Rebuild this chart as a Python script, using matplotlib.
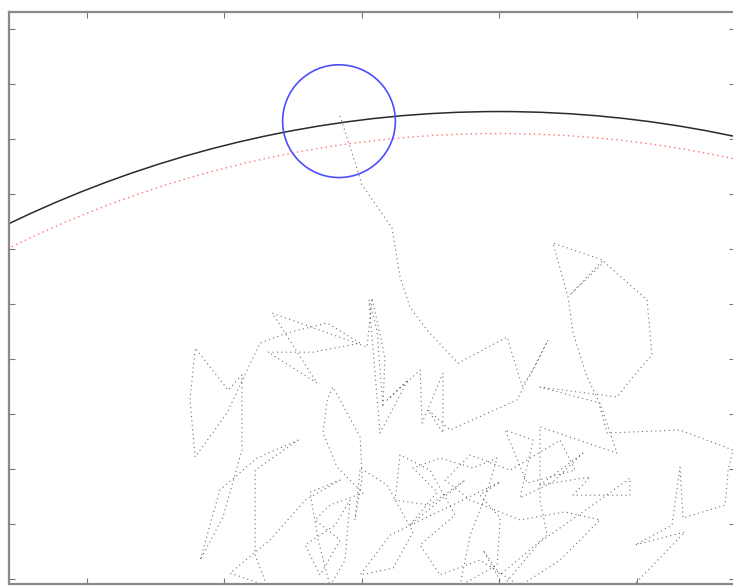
import numpy as np
import matplotlib
matplotlib.use('Agg')
import matplotlib.pyplot as plt
from matplotlib.patches import Circle

# boundary circles (centre at origin)
r_boundary = 41.0
r_inner = 40.2
# target circle at the hitting point
hit_x, hit_y, hit_r = -5.82, 40.65, 2.05

# random walk vertices
walk_x = [4.87, 6.76, 4.95, 6.29, 6.58, 6.69, 8.22, 8.33, 8.51, 6.58,
          3.93, 3.60, 3.20, 2.69, 2.51, 1.96, 3.78, 2.58, 3.82, 5.38,
          5.56, 4.87, 4.29, 1.49, 3.67, 4.29, 1.49, 1.49, 1.75, 0.04,
          -0.58, 0.15, 1.49, 3.56, 4.76, 4.76, 2.69, 3.31, 1.49, 3.05,
          1.96,
          0.76, 1.24, 0.22, 1.02, 2.76, 2.22, 0.40, -1.05, -1.96, -1.05,
          0.76, 2.40, 3.67, 2.22, 0.76, -0.69, -2.15, -2.87, -1.60, -2.51,
          -3.60, -3.78, -2.51, -1.24,
          -3.24, -2.25, -3.13, -2.15, -0.95, -0.07, -0.44, -1.05, -1.42,
          -0.07, 0.04, -0.69, 0.04, -3.96, -5.05, -3.85, -3.13, -4.07, -5.05,
          -5.24, -4.98, -5.05, -6.04, -6.25, -6.40, -5.89, -4.95,
          -6.15, -6.69, -5.78, -6.51, -7.05, -5.96, -5.42,
          -5.60, -6.15,
          -6.58, -6.87, -5.78, -7.05, -8.33, -9.78, -8.44, -8.87, -8.87, -7.31,
          -8.80, -10.15, -10.87, -10.04, -9.35, -9.35, -9.85, -11.05, -11.24, -11.05,
          -9.89, -9.16, -8.69, -7.71, -6.25, -5.05, -6.76, -8.40, -6.62, -8.25,
          -4.80, -4.62, -4.15, -4.22, -4.44, -4.73, -4.33, -3.31, -4.07, -2.87,
          -2.80, -2.04, -2.04, -2.58, -1.78, 0.65, 1.78, 1.24, 0.84, 0.29,
          -1.49, -2.62, -3.24, -3.60, -3.89, -4.98, -5.78]
walk_y = [23.75, 25.71, 25.24, 25.96, 28.07, 26.22, 26.69, 27.96, 28.69, 29.42,
          29.31, 30.51, 31.35, 32.95, 34.25, 36.22, 35.60, 34.33, 35.53, 34.15,
          32.15, 31.35, 30.62, 30.98, 30.40, 28.58, 29.53, 26.87, 25.60, 24.15,
          25.05, 23.75, 25.35, 26.80, 27.67, 27.05, 27.05, 27.71, 27.42, 28.58,
          27.53,
          26.95, 29.05, 29.42, 27.49, 27.96, 29.05, 27.96, 28.51, 27.60, 26.87,
          26.15, 26.44, 26.15, 24.69, 23.75, 24.69, 24.15, 25.24, 26.33, 27.96,
          28.51, 26.87, 26.69, 27.60,
          25.96, 27.16, 28.04, 28.40, 28.04, 28.40, 27.16, 25.60, 23.75,
          24.51, 26.22, 27.05, 27.53, 25.60, 24.15, 24.40, 25.71, 27.42, 28.04,
          26.15, 27.67, 29.16, 30.98, 30.51, 29.31, 28.07, 27.13,
          26.69, 26.15, 25.42, 24.15, 25.24, 25.96, 26.87,
          24.69, 23.75,
          25.42, 27.16, 27.60, 26.87, 25.42, 24.22, 23.75, 24.87, 27.96, 29.05,
          28.40, 27.24, 24.69, 26.25, 28.69, 31.42, 30.87, 32.40, 30.51, 28.44,
          30.04, 31.60, 32.58, 32.95, 33.31, 32.58, 32.25, 32.25, 31.13, 33.67,
          32.44, 34.22, 32.07, 30.25, 33.05, 34.15, 29.31, 31.24, 30.51, 31.60,
          29.67, 31.49, 29.31, 30.15, 29.42, 30.51, 32.69, 31.60, 31.02, 32.80,
          31.85, 33.05, 33.89, 34.98, 36.76, 38.33, 40.84]

xticks = [-15, -10, -5, 0, 5]
yticks = [24, 26, 28, 30, 32, 34, 36, 38, 40, 42, 44]

fig = plt.figure(figsize=(7.33, 5.86), dpi=100)
ax = fig.add_axes([9/733, 2/586, 726/733, 572/586])

ax.plot(walk_x, walk_y, color='#6e6e6e', lw=0.8, dashes=(1, 3))
ax.add_patch(Circle((0, 0), r_boundary, fill=False, ec='#2a2a2a', lw=1.1))
ax.add_patch(Circle((0, 0), r_inner, fill=False, ec='#ff7070', lw=1.0, ls=(0, (1, 2.5))))
ax.add_patch(Circle((hit_x, hit_y), hit_r, fill=False, ec='#4d4dff', lw=1.2))

ax.set_xlim(-17.82, 8.58)
ax.set_ylim(23.82, 44.62)
ax.set_xticks(xticks)
ax.set_yticks(yticks)
ax.tick_params(direction='in', length=4.5, width=0.8, color='#777777',
               top=True, right=True, labelleft=False, labelbottom=False)
for s in ax.spines.values():
    s.set_color('#8a8a8a')
    s.set_linewidth(1.6)

fig.savefig('out.png', dpi=100)
